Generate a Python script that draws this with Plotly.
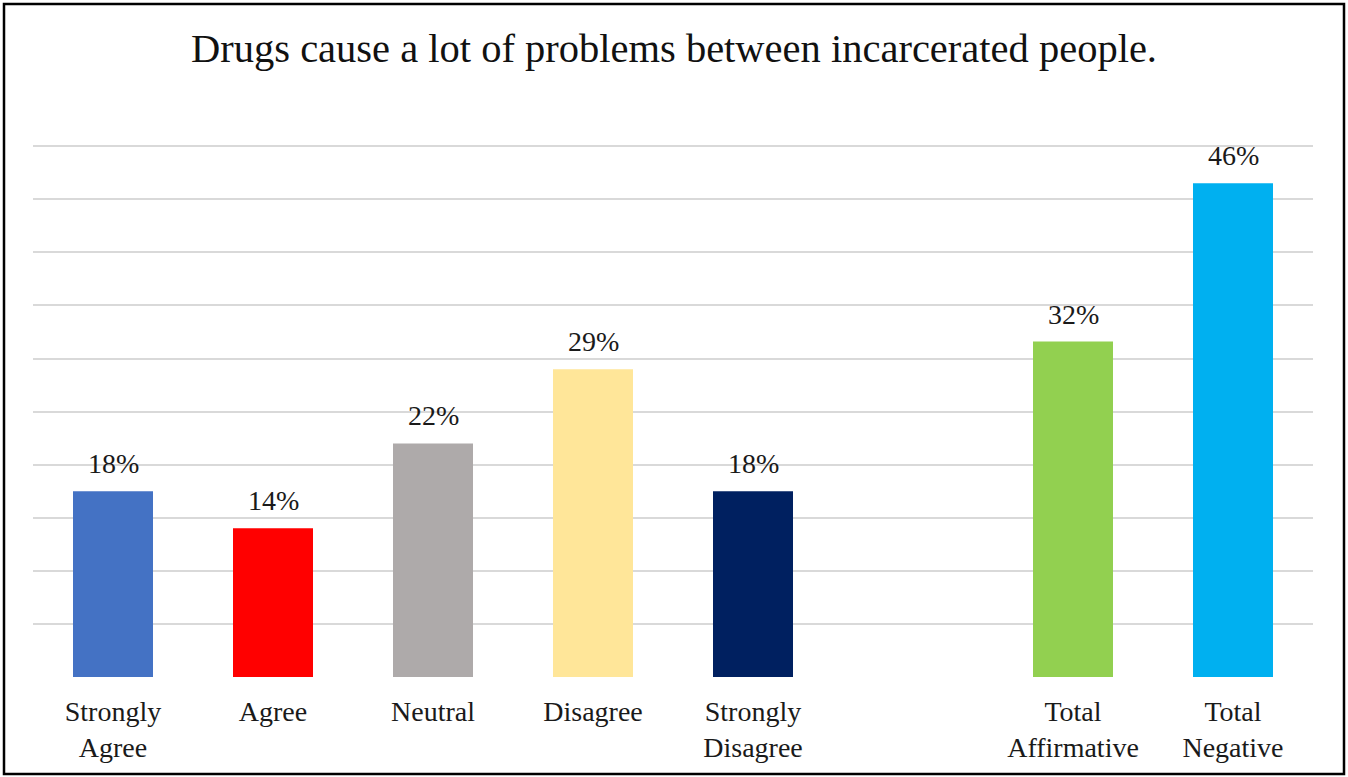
import plotly.graph_objects as go

categories = ["Strongly<br>Agree", "Agree", "Neutral", "Disagree", "Strongly<br>Disagree", " ",
              "Total<br>Affirmative", "Total<br>Negative"]
values = [17.5, 14.0, 22.0, 29.0, 17.5, None, 31.6, 46.5]
labels = ["18%", "14%", "22%", "29%", "18%", "", "32%", "46%"]
colors = ["#4472C4", "#FF0000", "#AEAAAA", "#FFE699", "#002060", "#FFFFFF", "#92D050", "#00B0F0"]
title = "Drugs cause a lot of problems between incarcerated people."

W, H = 1348, 777
L, R, T, B = 33, 35, 143, 100
pw, ph = W - L - R, H - T - B

fig = go.Figure()
fig.add_trace(go.Bar(x=categories, y=values, marker=dict(color=colors, line=dict(width=0)),
                     hoverinfo="skip"))

for c, v, t in zip(categories, values, labels):
    if v is None:
        continue
    fig.add_annotation(x=c, y=v, text=t, showarrow=False, yanchor="bottom", yshift=10,
                       font=dict(family="Liberation Serif", size=28, color="#1a1a1a"))

fig.update_layout(
    width=W, height=H,
    margin=dict(l=L, r=R, t=T, b=B, pad=0),
    paper_bgcolor="white", plot_bgcolor="white",
    bargap=0.5,
    showlegend=False,
    title=dict(text=title, x=0.5, xanchor="center", y=1 - 48 / H, yanchor="middle", yref="container",
               font=dict(family="Liberation Serif", size=40.5, color="#111")),
    xaxis=dict(type="category", categoryorder="array", categoryarray=categories,
               showgrid=False, showline=False, ticks="", ticklen=0, ticklabelstandoff=15,
               tickfont=dict(family="Liberation Serif", size=28, color="#1a1a1a")),
    yaxis=dict(range=[0, 50.3], dtick=5, showgrid=True, gridcolor="#D9D9D9", gridwidth=2,
               zeroline=False, showticklabels=False, showline=False, ticks=""),
)

fig.add_shape(type="rect", xref="paper", yref="paper",
              x0=(4 - L) / pw, x1=(1344 - L) / pw,
              y0=(H - B - 774) / ph, y1=(H - B - 4) / ph,
              line=dict(color="#000", width=2.5), fillcolor="rgba(0,0,0,0)", layer="above")

fig.write_html("out.html", config={"displayModeBar": False},
               post_script="document.body.style.margin='0';document.body.style.overflow='hidden';")
